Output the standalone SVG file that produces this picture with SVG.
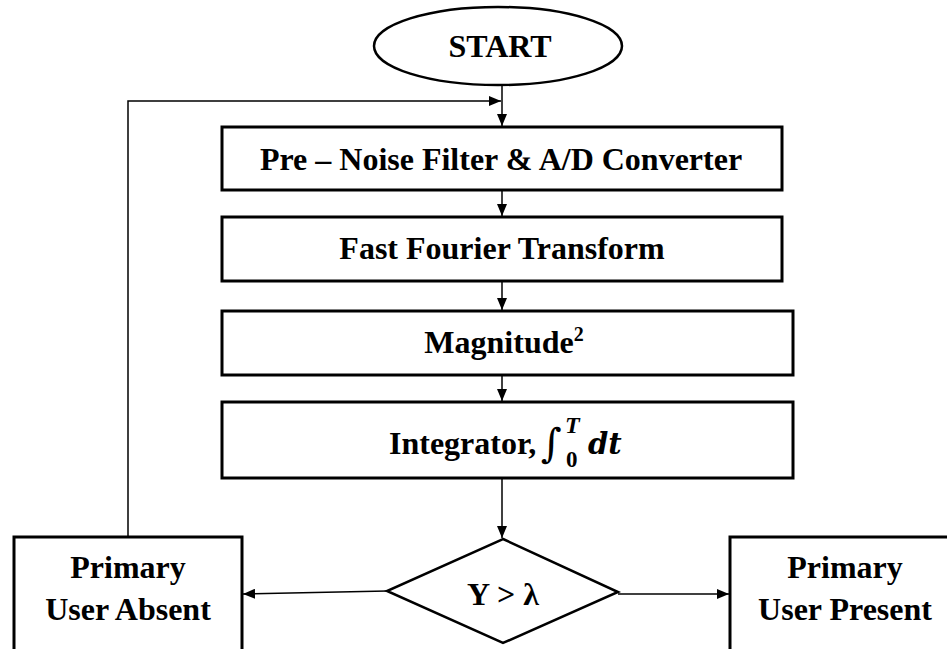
<svg xmlns="http://www.w3.org/2000/svg" width="947" height="649" viewBox="0 0 947 649">
<style>
.box{fill:#fff;stroke:#000;stroke-width:3}
.t{font-family:"Liberation Serif","Times New Roman",serif;font-weight:bold;font-size:32px;fill:#000;text-anchor:middle}
.s{text-anchor:start}
.c{fill:none;stroke:#000;stroke-width:1.5}
</style>
<defs>
<marker id="ah" viewBox="0 0 12 10" refX="12" refY="5" markerWidth="12" markerHeight="10" markerUnits="userSpaceOnUse" orient="auto">
<path d="M0,0 L12,5 L0,10 Z" fill="#000"/>
</marker>
</defs>
<g id="connectors">
<line class="c" x1="502" y1="85" x2="502" y2="126" marker-end="url(#ah)"/>
<polyline class="c" points="128,537 128,101 501,101" marker-end="url(#ah)"/>
<line class="c" x1="502" y1="191" x2="502" y2="216" marker-end="url(#ah)"/>
<line class="c" x1="502" y1="282" x2="502" y2="310" marker-end="url(#ah)"/>
<line class="c" x1="502" y1="376" x2="502" y2="401" marker-end="url(#ah)"/>
<line class="c" x1="502" y1="479" x2="502" y2="538" marker-end="url(#ah)"/>
<line class="c" x1="387" y1="591" x2="243" y2="594" marker-end="url(#ah)"/>
<line class="c" x1="618" y1="594" x2="729" y2="594" marker-end="url(#ah)"/>
</g>
<g id="start">
<ellipse cx="498" cy="46" rx="124" ry="39" fill="#fff" stroke="#000" stroke-width="2.5"/>
<text class="t" x="500" y="57">START</text>
</g>
<g id="prefilter">
<rect class="box" x="222" y="127" width="560" height="63"/>
<text class="t" x="501" y="170">Pre – Noise Filter &amp; A/D Converter</text>
</g>
<g id="fft">
<rect class="box" x="222" y="217" width="560" height="64"/>
<text class="t" x="502" y="259">Fast Fourier Transform</text>
</g>
<g id="magnitude">
<rect class="box" x="222" y="311" width="571" height="64"/>
<text class="t" x="504" y="353">Magnitude<tspan style="font-size:20px" dy="-12">2</tspan></text>
</g>
<g id="integrator">
<rect class="box" x="222" y="402" width="571" height="76"/>
<text class="t s" x="389" y="454">Integrator,</text>
<text class="t s" x="541" y="457" style="font-family:'DejaVu Serif',serif;font-weight:normal;font-size:40px">∫</text>
<text class="t s" x="566" y="467" style="font-size:23px">0</text>
<text class="t s" x="565" y="433" style="font-size:24px;font-style:italic">T</text>
<text class="t s" x="588" y="454" style="font-family:'DejaVu Serif',serif;font-style:italic;font-size:29px">dt</text>
</g>
<g id="decision">
<polygon points="503,539 618,592 503,643 387,591" fill="#fff" stroke="#000" stroke-width="2.5"/>
<text class="t" x="503" y="605">Y &gt; λ</text>
</g>
<g id="absent">
<rect class="box" x="14" y="537" width="228" height="130"/>
<text class="t" x="128" y="578">Primary</text>
<text class="t" x="128" y="620">User Absent</text>
</g>
<g id="present">
<rect class="box" x="730" y="537" width="232" height="130"/>
<text class="t" x="845" y="578">Primary</text>
<text class="t" x="845" y="620">User Present</text>
</g>
</svg>
